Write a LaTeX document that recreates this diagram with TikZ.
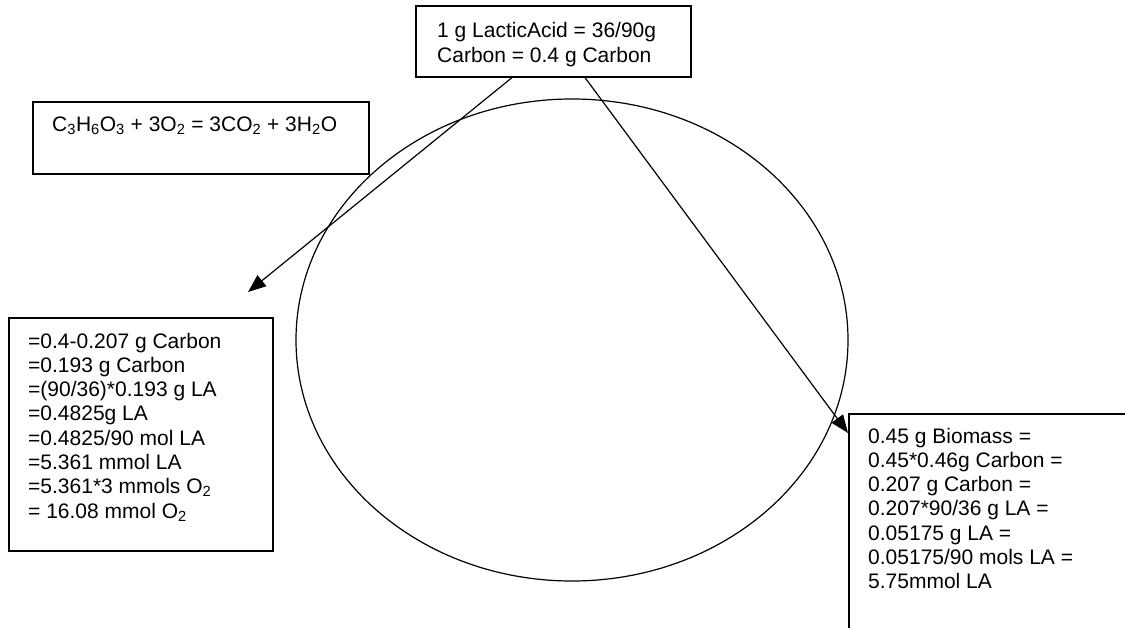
\documentclass[tikz,border=0pt]{standalone}
\usepackage{fontspec}
\setmainfont{Liberation Sans}
\usetikzlibrary{arrows.meta,calc,shapes.geometric}
\begin{document}
\begin{tikzpicture}[x=1pt,y=-1pt,
  box/.style={draw, line width=1.6pt, inner sep=0pt, anchor=north west},
  txt/.style={anchor=base west, inner sep=0pt, font=\fontsize{21}{24.3}\selectfont},
  arr/.style={draw, line width=1.2pt, -{Triangle[length=18pt,width=14pt]}},
  ring/.style={draw, ellipse, line width=1.2pt, inner sep=0pt}]
\useasboundingbox (0,0) rectangle (1125,627);
\clip (0,0) rectangle (1125,627);

\node[ring, minimum width=552pt, minimum height=482pt] (ell) at (572,340) {};

\node[box, minimum width=275pt, minimum height=71pt] (top) at (415,5) {};
\node[txt] (toptxt) at (437,37) {\vtop{\baselineskip=25.5pt\hbox{1 g LacticAcid = 36/90g}\hbox{Carbon = 0.4 g Carbon}}};

\node[box, minimum width=336pt, minimum height=72pt] (eq) at (32,101) {};
\node[txt] (eqtxt) at (52,131) {C\textsubscript{3}H\textsubscript{6}O\textsubscript{3} + 3O\textsubscript{2} = 3CO\textsubscript{2} + 3H\textsubscript{2}O};

\node[box, minimum width=264pt, minimum height=233pt] (lbox) at (8,317) {};
\node[txt] (ltxt) at (28,348) {\vtop{%
  \hbox{=0.4-0.207 g Carbon}
  \hbox{=0.193 g Carbon}
  \hbox{=(90/36)*0.193 g LA}
  \hbox{=0.4825g LA}
  \hbox{=0.4825/90 mol LA}
  \hbox{=5.361 mmol LA}
  \hbox{=5.361*3 mmols O\textsubscript{2}}
  \hbox{= 16.08 mmol O\textsubscript{2}}}};

\node[box, minimum width=400pt, minimum height=300pt] (rbox) at (848,413) {};
\node[txt] (rtxt) at (868,443) {\vtop{%
  \hbox{0.45 g Biomass =}
  \hbox{0.45*0.46g Carbon =}
  \hbox{0.207 g Carbon =}
  \hbox{0.207*90/36 g LA =}
  \hbox{0.05175 g LA =}
  \hbox{0.05175/90 mols LA =}
  \hbox{5.75mmol LA}}};

\coordinate (t1) at (248,292);
\coordinate (t2) at ([yshift=-20pt]rbox.north west);
\draw[arr] ([xshift=97pt]top.south west) -- (t1);
\draw[arr] ([xshift=170pt]top.south west) -- (t2);
\end{tikzpicture}
\end{document}
